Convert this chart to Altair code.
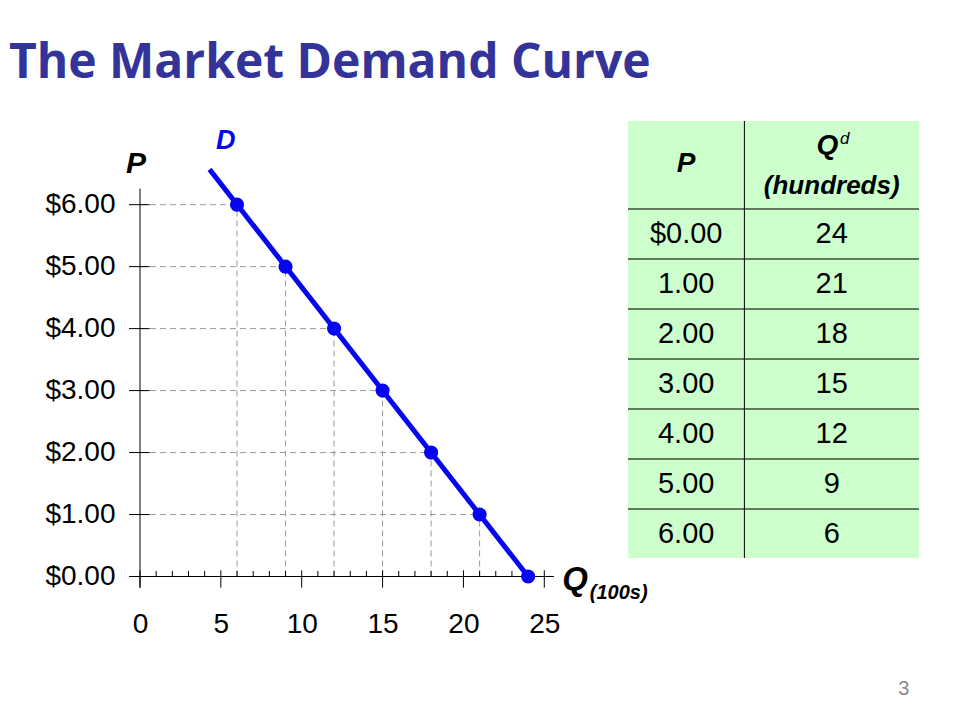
import altair as alt
import pandas as pd

# ---- data ----
price = [0, 1, 2, 3, 4, 5, 6]
qty = [24, 21, 18, 15, 12, 9, 6]
price_labels = ["$0.00", "1.00", "2.00", "3.00", "4.00", "5.00", "6.00"]
qty_labels = ["24", "21", "18", "15", "12", "9", "6"]
x_major = [0, 5, 10, 15, 20, 25]
x_minor = [1, 2, 3, 4, 6, 7, 8, 9, 11, 12, 13, 14, 16, 17, 18, 19, 21, 22, 23, 24]
y_ticks = [0, 1, 2, 3, 4, 5, 6]
line_q = [4.3, 24]
line_p = [6.57, 0]

FONT = "Liberation Sans"
BLUE = "#0505f0"

xs = alt.Scale(domain=[-0.68, 25.6], nice=False, zero=False)
ys = alt.Scale(domain=[-0.25, 7.35], nice=False, zero=False)

ax_x = alt.Axis(values=x_major, title=None, grid=False, domain=False, ticks=False,
                labelFontSize=28, labelFont=FONT, labelColor="black", labelPadding=18,
                labelFlush=False)
ax_y = alt.Axis(values=y_ticks, title=None, grid=False, domain=False, ticks=False,
                labelFontSize=28, labelFont=FONT, labelColor="black", labelPadding=14,
                labelExpr="'$' + format(datum.value, '.2f')")

def X(f):
    return alt.X(f, type="quantitative", scale=xs, axis=ax_x)

def Y(f):
    return alt.Y(f, type="quantitative", scale=ys, axis=ax_y)

pts = pd.DataFrame({"q": qty, "p": price, "zero": [0] * len(qty)})
drop = pts[pts.p > 0]

hdash = alt.Chart(drop).mark_rule(color="#9a9a9a", strokeDash=[6, 4], strokeWidth=1).encode(
    x=X("zero"), x2="q", y=Y("p"))
vdash = alt.Chart(drop).mark_rule(color="#9a9a9a", strokeDash=[6, 4], strokeWidth=1).encode(
    x=X("q"), y=Y("zero"), y2="p")

xaxis_df = pd.DataFrame({"a": [-0.68], "b": [25.6], "y": [0]})
xaxis = alt.Chart(xaxis_df).mark_rule(color="black", strokeWidth=1).encode(
    x=X("a"), x2="b", y=Y("y"))
yaxis_df = pd.DataFrame({"x": [0], "a": [-0.18], "b": [6.26]})
yaxis = alt.Chart(yaxis_df).mark_rule(color="black", strokeWidth=1).encode(
    x=X("x"), y=Y("a"), y2="b")

maj_df = pd.DataFrame({"x": x_major, "a": -0.18, "b": 0.1})
maj = alt.Chart(maj_df).mark_rule(color="black", strokeWidth=1).encode(
    x=X("x"), y=Y("a"), y2="b")
min_df = pd.DataFrame({"x": x_minor, "a": 0.0, "b": 0.09})
mino = alt.Chart(min_df).mark_rule(color="black", strokeWidth=1).encode(
    x=X("x"), y=Y("a"), y2="b")
yt_df = pd.DataFrame({"y": y_ticks, "a": -0.68, "b": 0.6})
ytk = alt.Chart(yt_df).mark_rule(color="black", strokeWidth=1).encode(
    x=X("a"), x2="b", y=Y("y"))

line_df = pd.DataFrame({"q": line_q, "p": line_p})
dline = alt.Chart(line_df).mark_line(color=BLUE, strokeWidth=5).encode(x=X("q"), y=Y("p"))
dots = alt.Chart(pts).mark_circle(color=BLUE, size=200, opacity=1).encode(x=X("q"), y=Y("p"))

lab_df = pd.DataFrame({
    "t": ["D", "P", "Q"],
    "x": [5.3, -0.25, 26.9],
    "y": [7.02, 6.66, -0.05],
    "c": [BLUE, "black", "black"],
    "s": [27, 30, 33],
})
labs = alt.Chart(lab_df).mark_text(font=FONT, fontWeight="bold", fontStyle="italic",
                                    align="center", baseline="middle").encode(
    x=X("x"), y=Y("y"), text="t:N",
    color=alt.Color("c:N", scale=None), size=alt.Size("s:Q", scale=None))
sub_df = pd.DataFrame({"t": ["(100s)"], "x": [29.6], "y": [-0.27]})
sub = alt.Chart(sub_df).mark_text(font=FONT, fontWeight="bold", fontStyle="italic",
                                  fontSize=20, align="center", baseline="middle",
                                  color="black").encode(x=X("x"), y=Y("y"), text="t:N")

plot = alt.layer(hdash, vdash, xaxis, yaxis, maj, mino, ytk, dline, dots, labs, sub).properties(
    width=425, height=471)

# ---- table ----
tx = alt.Scale(domain=[0, 1], nice=False, zero=False)
ty = alt.Scale(domain=[0, 8.74], nice=False, zero=False, reverse=True)

def TX(f):
    return alt.X(f, type="quantitative", scale=tx, axis=None)

def TY(f):
    return alt.Y(f, type="quantitative", scale=ty, axis=None)

bg = alt.Chart(pd.DataFrame({"a": [0], "b": [1], "c": [0], "d": [8.74]})).mark_rect(
    color="#ccffcc").encode(x=TX("a"), x2="b", y=TY("c"), y2="d")
rows_df = pd.DataFrame({"y": [1.76 + i for i in range(7)], "a": 0, "b": 1})
rowlines = alt.Chart(rows_df).mark_rule(color="#5f7a5f", strokeWidth=2).encode(
    x=TX("a"), x2="b", y=TY("y"))
vline = alt.Chart(pd.DataFrame({"x": [0.4], "a": [0], "b": [8.74]})).mark_rule(
    color="black", strokeWidth=1).encode(x=TX("x"), y=TY("a"), y2="b")

cells = pd.DataFrame({
    "t": price_labels + qty_labels,
    "x": [0.2] * 7 + [0.7] * 7,
    "y": [2.26 + i for i in range(7)] * 2,
})
celltext = alt.Chart(cells).mark_text(font=FONT, fontSize=29, align="center",
                                      baseline="middle", color="black").encode(
    x=TX("x"), y=TY("y"), text="t:N")

head = pd.DataFrame({
    "t": ["P", "Q", "d", "(hundreds)"],
    "x": [0.2, 0.685, 0.745, 0.7],
    "y": [0.86, 0.5, 0.36, 1.3],
    "s": [28, 28, 17, 26],
    "st": ["italic", "italic", "italic", "italic"],
    "w": ["bold", "bold", "normal", "bold"],
})
headtext = []
for _, r in head.iterrows():
    headtext.append(
        alt.Chart(pd.DataFrame([r])).mark_text(
            font=FONT, fontSize=int(r.s), fontStyle=r.st, fontWeight=r.w,
            align="center", baseline="middle", color="black").encode(
            x=TX("x"), y=TY("y"), text="t:N"))

page = alt.Chart(pd.DataFrame({"t": ["3"], "x": [0.948], "y": [11.36]})).mark_text(
    font=FONT, fontSize=20, color="#8a8a8a", align="center", baseline="middle").encode(
    x=TX("x"), y=TY("y"), text="t:N")

table = alt.layer(bg, rowlines, vline, celltext, *headtext, page).properties(
    width=291, height=437)

chart = alt.hconcat(plot, table, spacing=74, bounds="flush").properties(
    title=alt.TitleParams("The Market Demand Curve", anchor="start", fontSize=48,
                          font="Open Sans", fontWeight="bold", color="#333399",
                          offset=33, dx=-36),
    padding={"left": 0, "top": 31, "right": 0, "bottom": 0},
).configure_view(stroke=None)

chart.save("out.html", embed_options={"renderer": "svg", "actions": False})
